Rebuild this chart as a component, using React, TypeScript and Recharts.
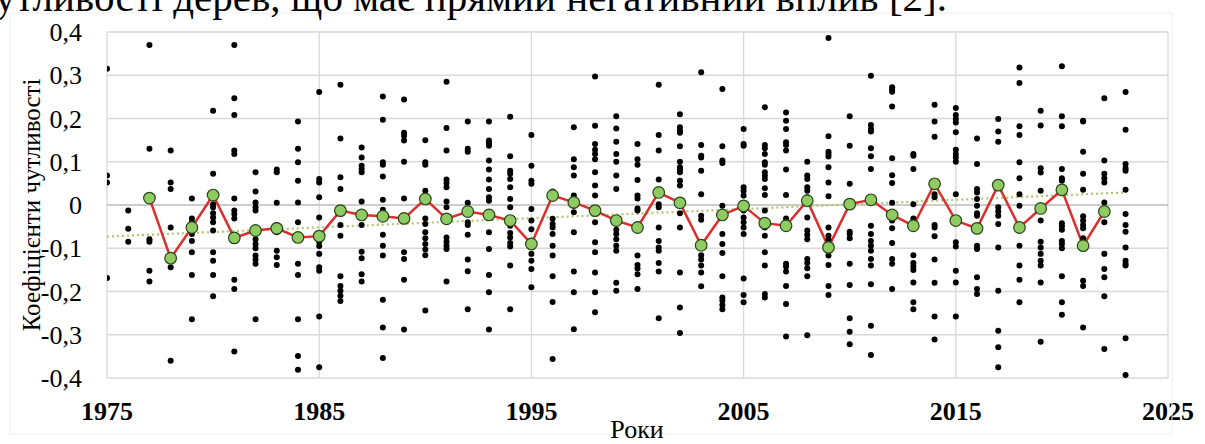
import React from 'react';
import { ComposedChart, Scatter, Line, XAxis, YAxis, CartesianGrid, ReferenceLine } from 'recharts';

const xTicks = [1975, 1985, 1995, 2005, 2015, 2025];
const yTicks = [-0.4, -0.3, -0.2, -0.1, 0, 0.1, 0.2, 0.3, 0.4];

const dotYears = [
  1975, 1976, 1977, 1978, 1979, 1980, 1981, 1982, 1983, 1984, 1985, 1986, 1987, 1988, 1989,
  1990, 1991, 1992, 1993, 1994, 1995, 1996, 1997, 1998, 1999, 2000, 2001, 2002, 2003, 2004,
  2005, 2006, 2007, 2008, 2009, 2010, 2011, 2012, 2013, 2014, 2015, 2016, 2017, 2018, 2019,
  2020, 2021, 2022, 2023,
];

const dotValues: number[][] = [
  [0.315, 0.068, 0.052, -0.169],
  [-0.013, -0.055, -0.085],
  [0.37, 0.13, -0.079, -0.085, -0.152, -0.177],
  [0.126, 0.052, 0.037, -0.052, -0.144, -0.36],
  [0.015, -0.031, -0.04, -0.05, -0.059, -0.067, -0.083, -0.109, -0.162, -0.264],
  [0.218, 0.072, 0.002, -0.005, -0.019, -0.029, -0.04, -0.059, -0.109, -0.129, -0.162, -0.211],
  [0.37, 0.247, 0.208, 0.126, 0.118, 0.015, -0.013, -0.021, -0.031, -0.173, -0.194, -0.339],
  [0.076, 0.031, 0.006, -0.005, -0.013, -0.079, -0.09, -0.1, -0.117, -0.126, -0.136, -0.264],
  [0.082, 0.076, 0.005, -0.046, -0.056, -0.063, -0.106, -0.121, -0.139],
  [0.193, 0.13, 0.099, 0.056, 0.006, -0.04, -0.075, -0.136, -0.162, -0.264, -0.349, -0.381],
  [0.261, 0.06, 0.052, 0.018, -0.029, -0.085, -0.095, -0.113, -0.144, -0.152, -0.258, -0.375],
  [0.278, 0.154, 0.064, 0.037, -0.046, -0.071, -0.165, -0.187, -0.198, -0.21, -0.222],
  [0.133, 0.11, 0.091, 0.083, 0.076, 0.008, -0.046, -0.108, -0.123, -0.16, -0.177],
  [0.251, 0.197, 0.099, 0.093, 0.066, 0.012, -0.011, -0.069, -0.094, -0.117, -0.219, -0.283, -0.354],
  [0.244, 0.167, 0.16, 0.149, 0.1, 0.015, -0.109, -0.125, -0.173, -0.288],
  [0.15, 0.099, 0.093, 0.033, -0.031, -0.044, -0.063, -0.077, -0.09, -0.103, -0.116, -0.244],
  [0.285, 0.178, 0.126, 0.059, 0.051, 0.041, 0.008, -0.005, -0.075, -0.085, -0.094, -0.102, -0.177],
  [0.193, 0.13, 0.123, 0.005, -0.04, -0.046, -0.069, -0.126, -0.153, -0.241],
  [0.193, 0.149, 0.143, 0.137, 0.103, 0.082, 0.059, 0.037, 0.018, 0.01, -0.063, -0.102, -0.162, -0.202, -0.288],
  [0.204, 0.113, 0.079, 0.072, 0.06, 0.041, 0.014, -0.005, -0.048, -0.065, -0.075, -0.088, -0.096, -0.14, -0.241],
  [0.162, 0.091, 0.056, 0.049, -0.009, -0.036, -0.056, -0.113, -0.129, -0.148, -0.19],
  [0.031, -0.032, -0.044, -0.052, -0.067, -0.094, -0.117, -0.165, -0.224, -0.356],
  [0.18, 0.106, 0.087, 0.068, 0.022, 0.014, -0.002, -0.017, -0.063, -0.154, -0.202, -0.287],
  [0.297, 0.183, 0.141, 0.128, 0.118, 0.106, 0.076, 0.045, 0.022, -0.04, -0.086, -0.109, -0.156, -0.202, -0.248],
  [0.205, 0.177, 0.146, 0.118, 0.1, 0.068, 0.037, -0.057, -0.067, -0.079, -0.094, -0.106, -0.18, -0.198],
  [0.141, 0.106, 0.093, 0.058, 0.022, 0.015, -0.008, -0.013, -0.117, -0.139, -0.147, -0.16, -0.194],
  [0.278, 0.162, 0.126, 0.059, 0.002, -0.005, -0.052, -0.083, -0.098, -0.106, -0.134, -0.154, -0.262],
  [0.21, 0.18, 0.172, 0.167, 0.136, 0.1, 0.087, 0.082, 0.076, 0.056, 0.045, -0.019, -0.052, -0.156, -0.237, -0.296],
  [0.307, 0.139, 0.114, 0.11, 0.079, 0.025, -0.025, -0.034, -0.116, -0.126, -0.14, -0.156, -0.188],
  [0.268, 0.136, 0.103, 0.097, -0.002, -0.067, -0.09, -0.111, -0.165, -0.214, -0.221, -0.231, -0.241],
  [0.176, 0.141, 0.137, 0.041, 0.033, 0.022, -0.013, -0.029, -0.04, -0.052, -0.067, -0.17, -0.208, -0.225],
  [0.226, 0.139, 0.131, 0.118, 0.099, 0.093, 0.076, 0.068, 0.06, 0.039, 0.023, -0.013, -0.052, -0.071, -0.109, -0.14, -0.206, -0.214],
  [0.214, 0.195, 0.176, 0.145, 0.139, 0.126, 0.082, 0.023, -0.031, -0.136, -0.142, -0.154, -0.187, -0.229, -0.304],
  [0.1, 0.068, 0.06, 0.041, 0.033, 0.018, -0.029, -0.059, -0.069, -0.079, -0.125, -0.134, -0.146, -0.165, -0.301],
  [0.386, 0.159, 0.123, 0.118, 0.112, 0.087, 0.052, 0.02, -0.052, -0.071, -0.08, -0.117, -0.139, -0.187, -0.208],
  [0.205, 0.137, 0.049, -0.062, -0.067, -0.077, -0.136, -0.185, -0.262, -0.293, -0.322],
  [0.299, 0.185, 0.176, 0.17, 0.131, 0.113, 0.083, -0.048, -0.067, -0.083, -0.094, -0.106, -0.125, -0.14, -0.183, -0.279, -0.347],
  [0.272, 0.267, 0.262, 0.228, 0.108, 0.069, 0.051, 0.005, -0.036, -0.054, -0.088, -0.125, -0.136, -0.194],
  [0.118, 0.114, 0.083, 0.002, -0.031, -0.116, -0.134, -0.142, -0.15, -0.179, -0.225, -0.241],
  [0.232, 0.193, 0.158, 0.025, 0.018, -0.046, -0.052, -0.072, -0.126, -0.18, -0.258, -0.311],
  [0.224, 0.208, 0.199, 0.191, 0.168, 0.128, 0.118, 0.11, 0.1, 0.025, -0.086, -0.096, -0.152, -0.179, -0.258],
  [0.154, 0.095, 0.037, 0.029, 0.014, -0.002, -0.019, -0.025, -0.094, -0.102, -0.167, -0.194, -0.206],
  [0.199, 0.17, 0.146, -0.005, -0.015, -0.025, -0.044, -0.098, -0.198, -0.291, -0.329, -0.375],
  [0.318, 0.282, 0.182, 0.162, 0.099, 0.062, 0.025, -0.002, -0.094, -0.14, -0.173, -0.225],
  [0.218, 0.184, 0.085, 0.075, 0.033, -0.036, -0.085, -0.098, -0.113, -0.129, -0.14, -0.179, -0.316],
  [0.321, 0.205, 0.182, 0.083, 0.062, 0.056, -0.042, -0.049, -0.057, -0.083, -0.09, -0.1, -0.165, -0.225, -0.254],
  [0.195, 0.193, 0.123, 0.072, 0.035, -0.026, -0.036, -0.046, -0.054, -0.077, -0.175, -0.187, -0.283],
  [0.247, 0.103, 0.072, 0.062, 0.052, 0.006, -0.04, -0.113, -0.148, -0.167, -0.211, -0.333],
  [0.261, 0.174, 0.095, 0.085, 0.079, 0.035, -0.021, -0.046, -0.062, -0.098, -0.129, -0.136, -0.14, -0.308, -0.393],
];

const meanYears = [
  1977, 1978, 1979, 1980, 1981, 1982, 1983, 1984, 1985, 1986, 1987, 1988, 1989, 1990, 1991,
  1992, 1993, 1994, 1995, 1996, 1997, 1998, 1999, 2000, 2001, 2002, 2003, 2004, 2005, 2006,
  2007, 2008, 2009, 2010, 2011, 2012, 2013, 2014, 2015, 2016, 2017, 2018, 2019, 2020, 2021, 2022,
];
const meanValues = [
  0.016, -0.123, -0.052, 0.023, -0.076, -0.059, -0.054, -0.075, -0.072, -0.013, -0.023, -0.026, -0.031, 0.014, -0.032,
  -0.015, -0.023, -0.036, -0.09, 0.022, 0.006, -0.013, -0.036, -0.052, 0.029, 0.005, -0.093, -0.023, -0.002, -0.042,
  -0.048, 0.01, -0.098, 0.002, 0.012, -0.023, -0.048, 0.049, -0.036, -0.054, 0.046, -0.052, -0.008, 0.035, -0.094, -0.015,
];

const trendYears = [1975, 2023];
const trendValues = [-0.073, 0.029];

const dotData = dotYears.flatMap((yr, i) => dotValues[i].map((v) => ({ x: yr, y: v })));
const meanData = meanYears.map((x, i) => ({ x, y: meanValues[i] }));
const trendData = trendYears.map((x, i) => ({ x, y: trendValues[i] }));

const SERIF = '"Liberation Serif", "Times New Roman", "DejaVu Serif", serif';
const fmt = (v: number) => (Math.abs(v) < 1e-9 ? '0' : v.toFixed(1).replace('.', ','));

const XTick = (props: any) => {
  const { x, y, payload } = props;
  return (
    <text x={x} y={y + 42} textAnchor="middle" fontFamily={SERIF} fontSize={26} fontWeight="bold" fill="#000">
      {payload.value}
    </text>
  );
};

const YTick = (props: any) => {
  const { x, y, payload } = props;
  return (
    <text x={x - 25} y={y + 9} textAnchor="end" fontFamily={SERIF} fontSize={26} fill="#000">
      {fmt(payload.value)}
    </text>
  );
};

const DotShape = (props: any) => {
  const { cx, cy } = props;
  if (cx == null || cy == null) return <g />;
  return <circle cx={cx} cy={cy} r={3} fill="#000" />;
};

export default function App() {
  return (
    <div style={{ position: 'absolute', left: 0, top: 0, width: 1205, height: 444, overflow: 'hidden', background: '#fff' }}>
      <ComposedChart width={1205} height={444} margin={{ top: 32, right: 37, left: 0, bottom: 0 }}>
        <CartesianGrid stroke="#d9d9d9" strokeWidth={1.3} />
        <XAxis
          type="number"
          dataKey="x"
          domain={[1975, 2025]}
          ticks={xTicks}
          interval={0}
          tick={<XTick />}
          tickLine={false}
          axisLine={false}
          tickSize={0}
          tickMargin={0}
          height={66}
          allowDataOverflow
        />
        <YAxis
          type="number"
          dataKey="y"
          domain={[-0.4, 0.4]}
          ticks={yTicks}
          interval={0}
          tick={<YTick />}
          tickLine={false}
          axisLine={false}
          tickSize={0}
          tickMargin={0}
          width={107}
          allowDataOverflow
        />
        <ReferenceLine y={0} stroke="#c4c4c4" strokeWidth={1.3} />
        <Scatter data={dotData} fill="#000" shape={DotShape} isAnimationActive={false} />
        <Line
          data={trendData}
          dataKey="y"
          type="linear"
          stroke="#a9c96c"
          strokeWidth={2.2}
          strokeDasharray="2 3"
          dot={false}
          activeDot={false}
          isAnimationActive={false}
        />
        <Line
          data={meanData}
          dataKey="y"
          type="linear"
          stroke="#dd2e2e"
          strokeWidth={2.5}
          dot={{ r: 5.8, fill: '#8ecb63', stroke: '#2a4418', strokeWidth: 1.2 }}
          activeDot={false}
          isAnimationActive={false}
        />
      </ComposedChart>
      <svg width={1205} height={444} style={{ position: 'absolute', left: 0, top: 0, pointerEvents: 'none' }}>
        <rect x={10} y={13} width={1162} height={421} fill="none" stroke="#f0f0f0" strokeWidth={1} />
        <text x={947} y={11} textAnchor="end" fontFamily={SERIF} fontSize={41} fill="#000">
          чутливості дерев, що має прямий негативний вплив [2].
        </text>
        <text
          transform="translate(31,205) rotate(-90)"
          textAnchor="middle"
          dominantBaseline="central"
          fontFamily={SERIF}
          fontSize={25}
          fill="#000"
        >
          Коефіцієнти чутливості
        </text>
        <text x={637} y={438} textAnchor="middle" fontFamily={SERIF} fontSize={26} fill="#000">
          Роки
        </text>
      </svg>
    </div>
  );
}
